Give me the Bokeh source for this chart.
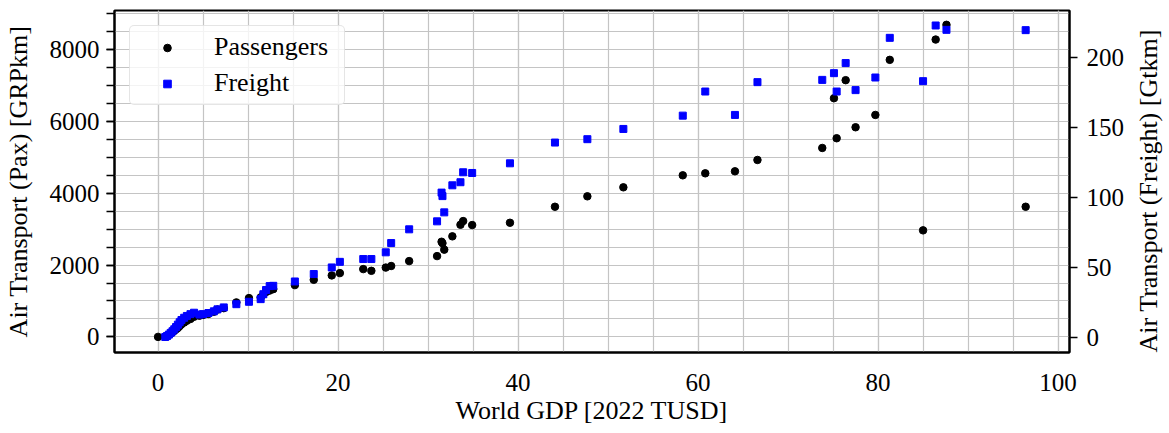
import math
from bokeh.plotting import figure
from bokeh.models import Range1d, LinearAxis, FixedTicker, ColumnDataSource
from bokeh.embed import file_html
from bokeh.resources import INLINE

NAN = float("nan")

# World GDP [2022 TUSD]
gdp = [0.0, 0.8, 1.0, 1.2, 1.4, 1.6, 1.8, 2.0, 2.2, 2.4, 2.6, 2.9, 3.2, 3.6, 4.0,
       4.6, 5.0, 5.6, 6.2, 6.6, 7.3, 8.7, 10.1, 11.4, 11.7, 12.0, 12.4, 12.8,
       15.2, 17.3, 19.3, 20.2, 22.8, 23.7, 25.3, 25.9, 27.9, 31.0, 31.5, 31.6,
       31.8, 32.7, 33.6, 33.9, 34.9, 39.1, 44.1, 47.7, 51.7, 58.3, 60.8, 64.1,
       66.6, 73.8, 75.1, 75.4, 76.4, 77.5, 79.7, 81.3, 85.0, 86.4, 87.6, 96.4]
# Air Transport (Pax) [GRPkm]
pax = [0, 10, 30, 60, 90, 130, 170, 210, 250, 300, 350, 400, 450, 500, 560,
       590, 610, 640, 700, 760, 800, 960, 1080, 1100, 1180, 1250, 1290, 1330,
       1442, 1590, 1712, 1776, 1888, 1840, 1930, 1974, 2111, 2250, 2650, 2610,
       2430, 2800, 3123, 3226, 3115, 3179, 3625, 3915, 4166, 4500, 4556, 4612,
       4928, 5262, 6648, 5533, 7150, 5839, 6182, 7716, 2967, 8282, 8692, 3625]
# Air Transport (Freight) [Gtkm]
freight = [NAN, 0.5, 1.2, 2.2, 3.4, 4.6, 6.0, 7.6, 9.3, 11.0, 12.6, 14.2, 15.5, 16.8, 17.8,
           16.5, 16.8, 17.6, 18.8, 20.2, 21.6, 23.9, 25.6, 27.5, 31.0, 34.0, 36.8, 37.0,
           40.1, 45.4, 50.1, 54.1, 56.1, 56.1, 60.9, 67.5, 77.3, 83.0, 103.5, 101.0,
           89.4, 108.7, 110.9, 118.0, 117.5, 124.4, 139.2, 141.6, 148.9, 158.4, 175.6, 158.9,
           182.3, 183.9, 188.7, 175.6, 195.9, 176.6, 185.6, 213.9, 183.0, 222.7, 219.6, 219.4]

x_ticks = [0, 20, 40, 60, 80, 100]
x_minor = list(range(-5, 105, 5))
pax_ticks = [0, 2000, 4000, 6000, 8000]
pax_minor = list(range(-500, 9501, 500))
fr_ticks = [0, 50, 100, 150, 200]

FONT = "Liberation Serif"
src = ColumnDataSource(dict(gdp=gdp, pax=pax, freight=freight))

p = figure(frame_width=955, frame_height=342, output_backend="svg", toolbar_location=None,
           x_range=Range1d(-4.84, 101.27), y_range=Range1d(-435, 9091),
           min_border_left=111, min_border_top=10, min_border_right=10, min_border_bottom=10)
p.extra_y_ranges = {"freight": Range1d(-10.57, 233.4)}

p.scatter("gdp", "pax", source=src, marker="circle", size=7.5, color="black",
          legend_label="Passengers")
p.scatter("gdp", "freight", source=src, marker="square", size=7, color="#0000ff",
          y_range_name="freight", legend_label="Freight")

p.xaxis.ticker = FixedTicker(ticks=x_ticks, minor_ticks=x_minor)
p.yaxis.ticker = FixedTicker(ticks=pax_ticks, minor_ticks=pax_minor)

right = LinearAxis(y_range_name="freight", ticker=FixedTicker(ticks=fr_ticks, minor_ticks=[]))
p.add_layout(right, "right")

p.xaxis.axis_label = "World GDP [2022 TUSD]"
p.yaxis[0].axis_label = "Air Transport (Pax) [GRPkm]"
right.axis_label = "Air Transport (Freight) [Gtkm]"
right.axis_label_orientation = math.pi / 2
right.axis_label_align = "start"

for ax in [p.xaxis[0], p.yaxis[0], right]:
    ax.axis_label_text_font = FONT
    ax.axis_label_text_font_size = "26px"
    ax.axis_label_text_font_style = "normal"
    ax.axis_label_text_color = "black"
    ax.major_label_text_font = FONT
    ax.major_label_text_font_size = "25px"
    ax.major_label_text_color = "black"
    ax.axis_line_color = "black"
    ax.axis_line_width = 2
    ax.major_tick_line_color = "black"
    ax.minor_tick_line_color = "black"
    ax.major_tick_line_width = 1.3
    ax.minor_tick_line_width = 1.3
    ax.major_tick_in = 0
    ax.minor_tick_in = 0

p.xaxis.major_tick_out = 0
p.xaxis.minor_tick_out = 0
p.xaxis.major_label_standoff = 21
p.xaxis.axis_label_standoff = 2

p.yaxis[0].major_tick_out = 8
p.yaxis[0].minor_tick_out = 8
p.yaxis[0].major_label_standoff = 7
p.yaxis[0].axis_label_standoff = 14

right.major_tick_out = 8
right.minor_tick_out = 0
right.major_label_standoff = 9
right.axis_label_standoff = 21

p.xgrid.grid_line_color = "#c4c4c4"
p.xgrid.minor_grid_line_color = "#c4c4c4"
p.ygrid.grid_line_color = "#c4c4c4"
p.ygrid.minor_grid_line_color = "#c4c4c4"
for g in [p.xgrid, p.ygrid]:
    g.grid_line_width = 1.2
    g.minor_grid_line_width = 1.2

p.outline_line_color = "black"
p.outline_line_width = 2
p.outline_line_alpha = 1

lg = p.legend[0]
lg.location = "top_left"
lg.margin = 15
lg.padding = 6
lg.glyph_width = 62
lg.glyph_height = 19
lg.label_height = 19
lg.label_width = 124
lg.spacing = 6
lg.label_standoff = 16
lg.label_text_font = FONT
lg.label_text_font_size = "26px"
lg.label_text_color = "black"
lg.border_line_color = "#cccccc"
lg.border_line_width = 1.5
lg.border_radius = 5
lg.background_fill_alpha = 0.8

open("out.html", "w").write(file_html(p, INLINE))
